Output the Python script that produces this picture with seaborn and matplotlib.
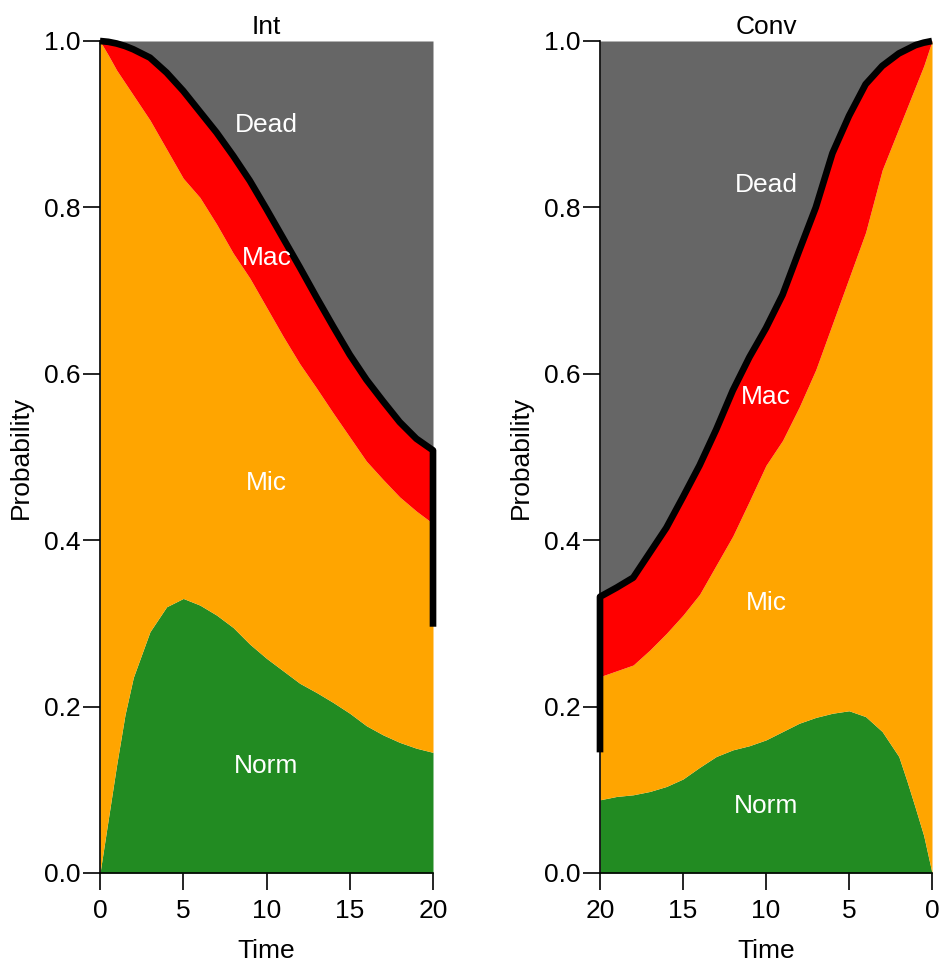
import numpy as np
import pandas as pd
import matplotlib
matplotlib.use("Agg")
import matplotlib.pyplot as plt
import seaborn as sns

# ---- data ----
time = [0, 0.5, 1, 1.5, 2, 3, 4, 5, 6, 7, 8, 9, 10, 11, 12, 13, 14, 15, 16, 17, 18, 19, 20]

# Int panel: cumulative upper edges of the stacked states
int_norm = [0.0, 0.065, 0.13, 0.19, 0.235, 0.29, 0.32, 0.33, 0.322, 0.31, 0.295, 0.275,
            0.258, 0.243, 0.228, 0.217, 0.205, 0.192, 0.177, 0.166, 0.157, 0.15, 0.145]
int_mic_top = [1.0, 0.983, 0.965, 0.95, 0.935, 0.905, 0.87, 0.835, 0.812, 0.78, 0.745, 0.715,
               0.68, 0.645, 0.612, 0.583, 0.553, 0.524, 0.495, 0.473, 0.452, 0.435, 0.42]
int_mac_top = [1.0, 0.999, 0.997, 0.994, 0.99, 0.98, 0.962, 0.94, 0.915, 0.89, 0.862, 0.832,
               0.798, 0.763, 0.728, 0.692, 0.657, 0.623, 0.593, 0.567, 0.542, 0.522, 0.508]
int_line_end = 0.296

# Conv panel
conv_norm = [0.0, 0.045, 0.078, 0.11, 0.14, 0.17, 0.188, 0.195, 0.192, 0.187, 0.18, 0.17,
             0.16, 0.153, 0.148, 0.14, 0.127, 0.113, 0.104, 0.098, 0.094, 0.092, 0.088]
conv_mic_top = [1.0, 0.97, 0.945, 0.92, 0.895, 0.845, 0.77, 0.715, 0.66, 0.605, 0.56, 0.52,
                0.49, 0.447, 0.405, 0.37, 0.335, 0.31, 0.288, 0.268, 0.25, 0.243, 0.236]
conv_mac_top = [1.0, 0.998, 0.995, 0.99, 0.985, 0.97, 0.948, 0.91, 0.865, 0.80, 0.748, 0.695,
                0.655, 0.62, 0.58, 0.533, 0.49, 0.452, 0.415, 0.385, 0.355, 0.343, 0.332]
conv_line_start = 0.145

states = ["Norm", "Mic", "Mac", "Dead"]
state_colors = ["#228B22", "#FFA500", "#FF0000", "#666666"]
yticks = [0.0, 0.2, 0.4, 0.6, 0.8, 1.0]
xticks = [0, 5, 10, 15, 20]
label_time = 10

# ---- style ----
sns.set_theme(style="ticks")
plt.rcParams["font.family"] = ["Liberation Sans", "DejaVu Sans"]
for k in ["text.color", "axes.labelcolor", "xtick.color", "ytick.color", "axes.edgecolor"]:
    plt.rcParams[k] = "black"
FS = 19

fig = plt.figure(figsize=(9.43, 9.65), dpi=100)
ax1 = fig.add_axes([100 / 943, 92 / 965, 333 / 943, 832 / 965])
ax2 = fig.add_axes([600 / 943, 92 / 965, 332 / 943, 832 / 965])


def panel(ax, title, norm, mic_top, mac_top, line_t, line_p, reverse):
    t = np.array(time)
    lower = [np.zeros_like(t), np.array(norm), np.array(mic_top), np.array(mac_top)]
    upper = [np.array(norm), np.array(mic_top), np.array(mac_top), np.ones_like(t)]
    for lo, hi, c in zip(lower, upper, state_colors):
        ax.fill_between(t, lo, hi, color=c, linewidth=0)
    df = pd.DataFrame({"t": line_t, "p": line_p})
    sns.lineplot(data=df, x="t", y="p", ax=ax, color="black", linewidth=4.8,
                 sort=False, estimator=None, solid_capstyle="butt", clip_on=False)
    i = time.index(label_time)
    for lo, hi, name in zip(lower, upper, states):
        ax.text(label_time, (lo[i] + hi[i]) / 2, name, color="white", fontsize=FS,
                ha="center", va="center")
    ax.set_ylim(0, 1)
    if reverse:
        ax.set_xlim(20, 0)
    else:
        ax.set_xlim(0, 20)
    ax.set_xticks(xticks)
    ax.set_xticklabels([str(x) for x in xticks])
    ax.set_yticks(yticks)
    ax.set_yticklabels([f"{y:.1f}" for y in yticks])
    ax.set_xlabel("Time", fontsize=FS, labelpad=11)
    ax.set_ylabel("Probability", fontsize=FS, labelpad=8)
    ax.set_title(title, fontsize=FS, pad=5)
    for s in ["top", "right"]:
        ax.spines[s].set_visible(False)
    for s in ["left", "bottom"]:
        ax.spines[s].set_linewidth(1.2)
        ax.spines[s].set_color("black")
    ax.tick_params(axis="both", direction="out", length=12, width=1.2, colors="black",
                   labelsize=FS)
    ax.tick_params(axis="x", pad=7)
    ax.tick_params(axis="y", pad=2)


panel(ax1, "Int", int_norm, int_mic_top, int_mac_top,
      time + [20], int_mac_top + [int_line_end], reverse=False)
panel(ax2, "Conv", conv_norm, conv_mic_top, conv_mac_top,
      [20] + time[::-1], [conv_line_start] + conv_mac_top[::-1], reverse=True)

fig.savefig("out.png", dpi=100)
